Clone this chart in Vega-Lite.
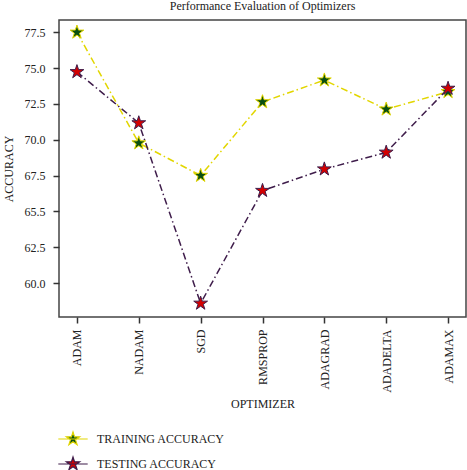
{
  "$schema": "https://vega.github.io/schema/vega-lite/v6.json",
  "width": 407,
  "height": 297,
  "autosize": {"type": "none"},
  "padding": {"left": 59, "top": 20, "right": 1, "bottom": 153},
  "background": "white",
  "title": {"text": "Performance Evaluation of Optimizers", "font": "Liberation Serif", "fontSize": 12, "fontWeight": "normal", "color": "#222", "offset": 7, "anchor": "middle"},
  "config": {
    "view": {"stroke": "#444", "strokeWidth": 1.5},
    "axis": {"labelFont": "Liberation Serif", "labelFontSize": 12, "labelColor": "#222", "titleFont": "Liberation Serif", "titleFontSize": 12, "titleFontWeight": "normal", "titleColor": "#222", "grid": false, "domain": false, "tickColor": "#333", "tickWidth": 1.5, "tickSize": 6},
    "legend": {"orient": "none", "legendX": 6, "legendY": 411, "title": null, "padding": 0, "symbolType": "M-2.1,0L2.1,0M0,-1L0.225,-0.309L0.951,-0.309L0.363,0.118L0.588,0.809L0,0.382L-0.588,0.809L-0.363,0.118L-0.951,-0.309L-0.225,-0.309Z", "symbolSize": 196, "symbolStrokeWidth": 1.2, "labelFont": "Liberation Serif", "labelFontSize": 12, "labelColor": "#222", "labelOffset": 16, "rowPadding": 6}
  },
  "data": {"values": [
    {"optimizer": "ADAM", "series": "TRAINING ACCURACY", "accuracy": 77.5},
    {"optimizer": "NADAM", "series": "TRAINING ACCURACY", "accuracy": 69.77},
    {"optimizer": "SGD", "series": "TRAINING ACCURACY", "accuracy": 67.5},
    {"optimizer": "RMSPROP", "series": "TRAINING ACCURACY", "accuracy": 72.64},
    {"optimizer": "ADAGRAD", "series": "TRAINING ACCURACY", "accuracy": 74.16},
    {"optimizer": "ADADELTA", "series": "TRAINING ACCURACY", "accuracy": 72.13},
    {"optimizer": "ADAMAX", "series": "TRAINING ACCURACY", "accuracy": 73.35},
    {"optimizer": "ADAM", "series": "TESTING ACCURACY", "accuracy": 74.74},
    {"optimizer": "NADAM", "series": "TESTING ACCURACY", "accuracy": 71.17},
    {"optimizer": "SGD", "series": "TESTING ACCURACY", "accuracy": 58.58},
    {"optimizer": "RMSPROP", "series": "TESTING ACCURACY", "accuracy": 66.45},
    {"optimizer": "ADAGRAD", "series": "TESTING ACCURACY", "accuracy": 67.95},
    {"optimizer": "ADADELTA", "series": "TESTING ACCURACY", "accuracy": 69.12},
    {"optimizer": "ADAMAX", "series": "TESTING ACCURACY", "accuracy": 73.58}
  ]},
  "encoding": {
    "x": {"field": "optimizer", "type": "ordinal", "sort": ["ADAM", "NADAM", "SGD", "RMSPROP", "ADAGRAD", "ADADELTA", "ADAMAX"], "scale": {"type": "point", "padding": 0.29}, "axis": {"title": "OPTIMIZER", "labelAngle": -90, "labelPadding": 6, "titlePadding": 6}},
    "y": {"field": "accuracy", "type": "quantitative", "scale": {"domain": [57.63, 78.36], "nice": false, "zero": false}, "axis": {"title": "ACCURACY", "values": [60, 62.5, 65, 67.5, 70, 72.5, 75, 77.5], "labelExpr": "datum.value == 65 ? '65.5' : format(datum.value, '.1f')", "labelPadding": 8, "titlePadding": 9}}
  },
  "layer": [
    {
      "mark": {"type": "line", "strokeDash": [7, 3, 1.5, 3], "strokeWidth": 1.5},
      "encoding": {"stroke": {"field": "series", "type": "nominal", "sort": ["TRAINING ACCURACY", "TESTING ACCURACY"], "scale": {"domain": ["TRAINING ACCURACY", "TESTING ACCURACY"], "range": ["#e2d600", "#3f1d4b"]}}}
    },
    {
      "mark": {"type": "point", "shape": "M0,-1L0.225,-0.309L0.951,-0.309L0.363,0.118L0.588,0.809L0,0.382L-0.588,0.809L-0.363,0.118L-0.951,-0.309L-0.225,-0.309Z", "size": 210, "filled": true, "strokeWidth": 1, "opacity": 1},
      "encoding": {
        "fill": {"field": "series", "type": "nominal", "sort": ["TRAINING ACCURACY", "TESTING ACCURACY"], "scale": {"domain": ["TRAINING ACCURACY", "TESTING ACCURACY"], "range": ["#0a4f12", "#d40000"]}},
        "stroke": {"field": "series", "type": "nominal", "sort": ["TRAINING ACCURACY", "TESTING ACCURACY"]}
      }
    }
  ]
}
